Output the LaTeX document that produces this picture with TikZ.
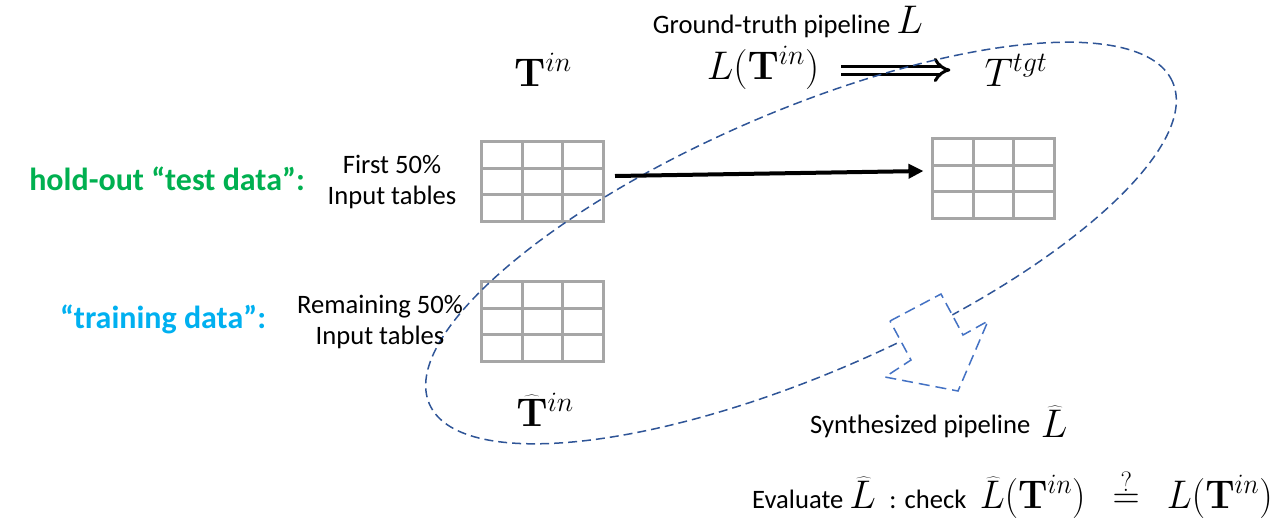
\RequirePackage{fix-cm}
\documentclass[tikz,border=0pt]{standalone}
\usepackage[no-math]{fontspec}
\setmainfont{Carlito}
\usetikzlibrary{arrows.meta,calc}
\definecolor{tgray}{HTML}{A6A6A6}
\definecolor{ellblue}{HTML}{2F5597}
\definecolor{arrblue}{HTML}{4472C4}
\definecolor{hgreen}{HTML}{00B050}
\definecolor{tblue}{HTML}{00B0F0}
\newcommand{\labfont}{\fontsize{26.6}{31}\selectfont}
\newcommand{\bigfont}{\fontsize{32}{38}\selectfont\bfseries}
\newcommand{\mathfnt}{\fontsize{40}{44}\selectfont}
\begin{document}
\begin{tikzpicture}[x=1pt,y=-1pt,
  tablebox/.style={draw=tgray, line width=3pt, minimum width=122pt, minimum height=80pt, inner sep=0pt,
    path picture={
      \foreach \f in {0.3333,0.6667}{
        \draw[tgray,line width=3pt] ($(path picture bounding box.north west)!\f!(path picture bounding box.north east)$) -- ($(path picture bounding box.south west)!\f!(path picture bounding box.south east)$);
        \draw[tgray,line width=3pt] ($(path picture bounding box.north west)!\f!(path picture bounding box.south west)$) -- ($(path picture bounding box.north east)!\f!(path picture bounding box.south east)$);
      }}},
  lbl/.style={font=\labfont, inner sep=0pt},
  mlbl/.style={font=\mathfnt, inner sep=0pt},
  ellline/.style={draw=ellblue, line width=1.5pt, dash pattern=on 9pt off 5pt},
  blockarr/.style={draw=arrblue, fill=white, line width=1.5pt, dash pattern=on 11pt off 6pt, line join=miter},
  bigarrow/.style={line width=4pt, -{Triangle[length=15pt,width=14pt]}},
  implies/.style={double, line width=3pt, double distance=5pt, -{Implies[length=9pt]}}
]
\useasboundingbox (0,0) rectangle (1287,531);

% tables
\node[tablebox] (tin) at (542.5,181.5) {};
\node[tablebox] (ttgt) at (993.5,178.5) {};
\node[tablebox] (thatin) at (542.5,321.5) {};

% top math
\node[mlbl, anchor=base] (Tin) at (543,86) {$\mathbf{T}^{in}$};
\node[mlbl, anchor=base] (LT) at (763,79) {$L(\mathbf{T}^{in})$};
\node[mlbl, anchor=base] (Ttgt) at (1016,86) {$T^{tgt}$};
\node[lbl, anchor=base] (gt) at (788,33) {Ground-truth pipeline {\mathfnt$L$}};
\coordinate (iy) at (0,70);
\draw[implies] ([xshift=22pt]LT.east |- iy) -- ([xshift=-34pt]Ttgt.west |- iy);

% ellipse
\draw[ellline, rotate around={23.4:(801,243)}] (801,243) ellipse [x radius=405pt, y radius=131pt];

% block arrow (synthesized pipeline)
\draw[blockarr] (890,321) -- (941,294) -- (963,335) -- (988,321) -- (958,391) -- (885,377) -- (911,360) -- cycle;

% main arrow
\draw[bigarrow] ([shift={(10pt,5.5pt)}]tin.east) -- ([shift={(-7.5pt,7.5pt)}]ttgt.west);

% left labels
\node[font=\bigfont, text=hgreen, anchor=base, inner sep=0pt] (hold) at (167,190) {hold-out “test data”:};
\node[font=\bigfont, text=tblue, anchor=base, inner sep=0pt] (train) at (163,328) {“training data”:};
\node[lbl, align=center] (first) at (392,182) {First 50\%\\Input tables};
\node[lbl, align=center] (remain) at (380,322) {Remaining 50\%\\Input tables};

% bottom
\node[mlbl, anchor=base] (hatTin) at (545,426) {$\widehat{\mathbf{T}}^{in}$};
\node[lbl, anchor=base west] (synth) at (810,433) {Synthesized pipeline\, {\mathfnt\raisebox{-4pt}{$\widehat{L}$}}};
\node[lbl, anchor=base west] (eval) at (752,508) {Evaluate {\mathfnt$\widehat{L}$}\; : check\; {\mathfnt\scalebox{0.94}[1]{$\widehat{L}(\mathbf{T}^{in})\;\,\stackrel{?}{=}\;\,L(\mathbf{T}^{in})$}}};
\end{tikzpicture}
\end{document}
